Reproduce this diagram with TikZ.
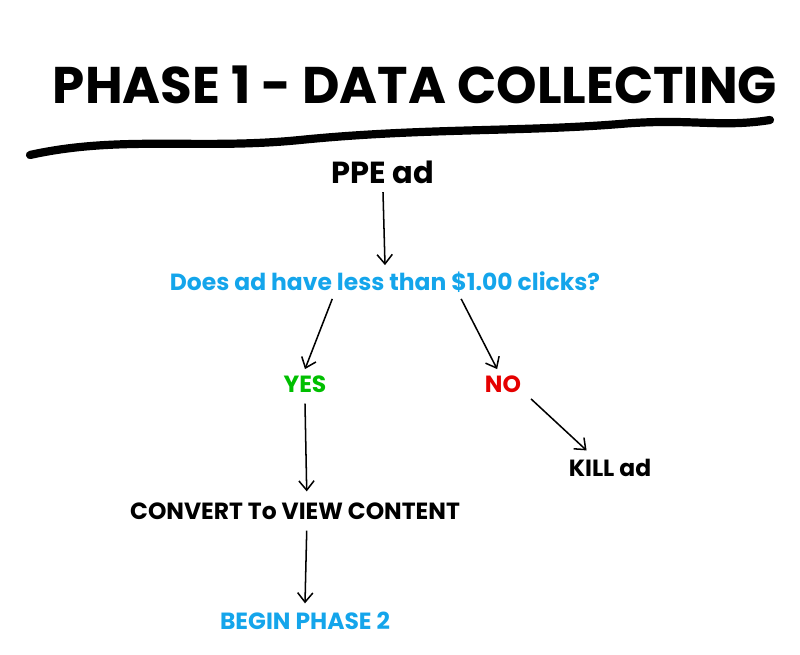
\documentclass[tikz,border=0pt]{standalone}
\usepackage{fontspec}
\setmainfont{Poppins}
\usetikzlibrary{arrows.meta,positioning}
\definecolor{askblue}{RGB}{20,165,235}

\begin{document}
\begin{tikzpicture}[x=0.03cm,y=-0.03cm,
  flowstep/.style={font=\bfseries\fontsize{20}{22}\selectfont, text=black},
  ask/.style={font=\bfseries\fontsize{20}{22}\selectfont, text=askblue},
  arr/.style={-{Straight Barb[length=8pt,width=13pt]}, line width=1.3pt},
]
\useasboundingbox (0,0) rectangle (800,655);

% title and brush stroke
\node (title) at (415,85) {\bfseries\fontsize{44}{48}\selectfont PHASE 1 - DATA COLLECTING};
\draw[line width=7pt, line cap=round]
  (30,155) .. controls (120,135) and (200,150) .. (300,140)
  .. controls (420,128) and (520,132) .. (620,124)
  .. controls (690,118) and (720,128) .. (770,120);

% flow
\node (ppe) [flowstep, font=\bfseries\fontsize{26}{28}\selectfont] at (383,172) {PPE ad};
\node (ask) [ask] at (385,282) {Does ad have less than \$1.00 clicks?};
\node (yes) [flowstep, text=green!75!black] at (305,384) {YES};
\node (no) [flowstep, text=red!90!black] at (503,384) {NO};
\node (kill) [flowstep] at (610,468) {KILL ad};
\node (conv) [flowstep] at (295,511) {CONVERT To VIEW CONTENT};
\node (phase2) [ask] at (305,621) {BEGIN PHASE 2};

\draw[arr] ([yshift=-4pt]ppe.south) -- ([yshift=2pt]ask.north);
\draw[arr] ([xshift=-45pt,yshift=-2pt]ask.south) -- ([yshift=2pt]yes.north);
\draw[arr] ([xshift=65pt,yshift=-2pt]ask.south) -- ([xshift=-5pt,yshift=2pt]no.north);
\draw[arr] ([yshift=-6pt]yes.south) -- ([xshift=10pt,yshift=6pt]conv.north);
\draw[arr] ([xshift=5pt,yshift=-2pt]no.south east) -- ([xshift=-20pt,yshift=4pt]kill.north);
\draw[arr] ([xshift=10pt,yshift=-6pt]conv.south) -- ([yshift=4pt]phase2.north);
\end{tikzpicture}
\end{document}
